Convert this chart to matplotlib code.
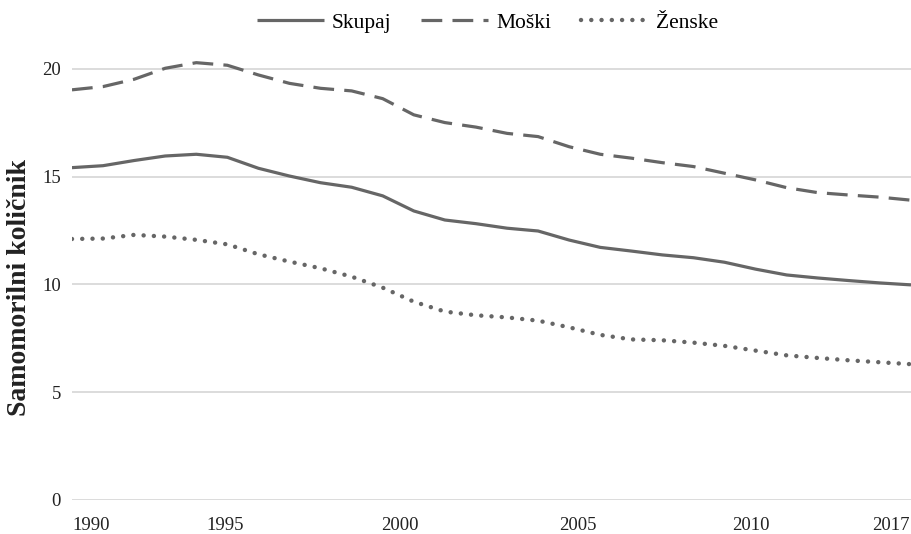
import matplotlib
matplotlib.use('Agg')
import matplotlib.pyplot as plt

# data
years = list(range(1990, 2018))
skupaj = [15.42, 15.51, 15.75, 15.96, 16.04, 15.90, 15.39, 15.03, 14.72, 14.51,
          14.11, 13.41, 12.99, 12.82, 12.61, 12.48, 12.06, 11.72, 11.55, 11.37,
          11.24, 11.03, 10.71, 10.44, 10.30, 10.18, 10.07, 9.98]
moski = [19.03, 19.18, 19.52, 20.03, 20.29, 20.17, 19.72, 19.33, 19.10, 18.98,
         18.62, 17.87, 17.51, 17.30, 17.01, 16.86, 16.39, 16.04, 15.86, 15.65,
         15.47, 15.16, 14.85, 14.49, 14.26, 14.15, 14.05, 13.91]
zenske = [12.11, 12.13, 12.30, 12.22, 12.07, 11.86, 11.40, 11.06, 10.75, 10.36,
          9.85, 9.20, 8.74, 8.57, 8.47, 8.32, 8.01, 7.66, 7.45, 7.41,
          7.30, 7.15, 6.93, 6.71, 6.59, 6.48, 6.39, 6.30]

tick_labels = ['1990', '1995', '2000', '2005', '2010', '2017']
tick_pos = [1990.61, 1994.93, 2000.56, 2006.29, 2011.85, 2016.36]

plt.rcParams['font.family'] = ['Liberation Serif', 'DejaVu Serif']

col = '#666666'
fs = 13.5

fig = plt.figure(figsize=(9.11, 5.34), dpi=100)
ax = fig.add_axes([0.079, 0.0637, 0.921, 0.8476])

ax.plot(years, skupaj, color=col, lw=2.3, label='Skupaj', solid_capstyle='butt')
ax.plot(years, moski, color=col, lw=2.3, label='Moški', dashes=(6.5, 3.2))
ax.plot(years, zenske, color=col, lw=3.2, label='Ženske', dashes=(0.01, 2.3),
        dash_capstyle='round')

ax.set_xlim(1990, 2017)
ax.set_ylim(0, 21)
ax.set_yticks([0, 5, 10, 15, 20])
ax.set_xticks(tick_pos)
ax.set_xticklabels(tick_labels)
ax.grid(axis='y', color='#d9d9d9', lw=1.3)
ax.set_axisbelow(True)
for s in ax.spines.values():
    s.set_visible(False)
ax.tick_params(axis='both', length=0, labelsize=fs, colors='#222222')
ax.tick_params(axis='y', pad=8)
ax.tick_params(axis='x', pad=12)

fig.text(0.021, 0.461, 'Samomorilni količnik', rotation=90, ha='center', va='center',
         fontsize=20, fontweight='bold', color='#222222')

fig.legend(loc='center', bbox_to_anchor=(0.535, 0.957), ncol=3, frameon=False,
           fontsize=15.5, handlelength=3.1, handletextpad=0.37, columnspacing=1.4)

fig.savefig('out.png', dpi=100)
